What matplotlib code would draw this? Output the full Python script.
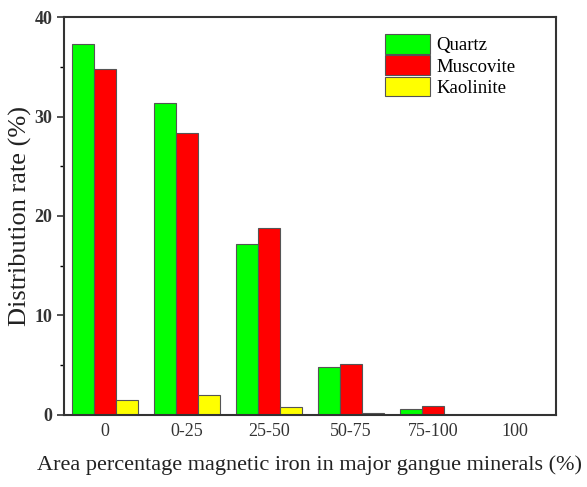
import numpy as np
import matplotlib
matplotlib.use("Agg")
import matplotlib.pyplot as plt
from matplotlib.ticker import MultipleLocator

plt.rcParams['font.family'] = ['Liberation Serif', 'DejaVu Serif']

categories = ['0', '0-25', '25-50', '50-75', '75-100', '100']
quartz = [37.3, 31.4, 17.2, 4.8, 0.6, 0.0]
muscovite = [34.8, 28.3, 18.8, 5.1, 0.9, 0.0]
kaolinite = [1.5, 2.0, 0.8, 0.2, 0.0, 0.0]

series = [('Quartz', quartz, '#00ff00'),
          ('Muscovite', muscovite, '#ff0000'),
          ('Kaolinite', kaolinite, '#ffff00')]

fig = plt.figure(figsize=(5.87, 4.87), dpi=100)
ax = fig.add_axes([0.109, 0.148, 0.838, 0.817])

x = np.arange(len(categories))
w = 0.265
for i, (name, vals, col) in enumerate(series):
    ax.bar(x + (i - 1) * w, vals, width=w, color=col, edgecolor='#555555',
           linewidth=0.8, label=name)

ax.set_xlim(-0.5, 5.5)
ax.set_ylim(0, 40)
ax.set_xticks(x)
ax.set_xticklabels(categories)
ax.yaxis.set_major_locator(MultipleLocator(10))
ax.yaxis.set_minor_locator(MultipleLocator(5))
ax.tick_params(axis='x', length=0, labelsize=13, colors='#333333', pad=6)
ax.tick_params(axis='y', which='major', length=5, width=1.2, labelsize=13,
               colors='#333333')
ax.tick_params(axis='y', which='minor', length=3, width=1.0)
for lab in ax.get_yticklabels():
    lab.set_fontweight('bold')
for s in ax.spines.values():
    s.set_color('#333333')
    s.set_linewidth(1.5)

ax.set_xlabel('Area percentage magnetic iron in major gangue minerals (%)',
              fontsize=16, color='#222222', labelpad=11)
ax.set_ylabel('Distribution rate (%)', fontsize=19, color='#222222', labelpad=2)

ax.legend(loc='upper right', bbox_to_anchor=(0.94, 0.985), frameon=False,
          fontsize=13.5, handlelength=2.4, handleheight=1.25,
          labelspacing=0.05, handletextpad=0.3, borderaxespad=0.2)

fig.savefig('out.png', dpi=100)
